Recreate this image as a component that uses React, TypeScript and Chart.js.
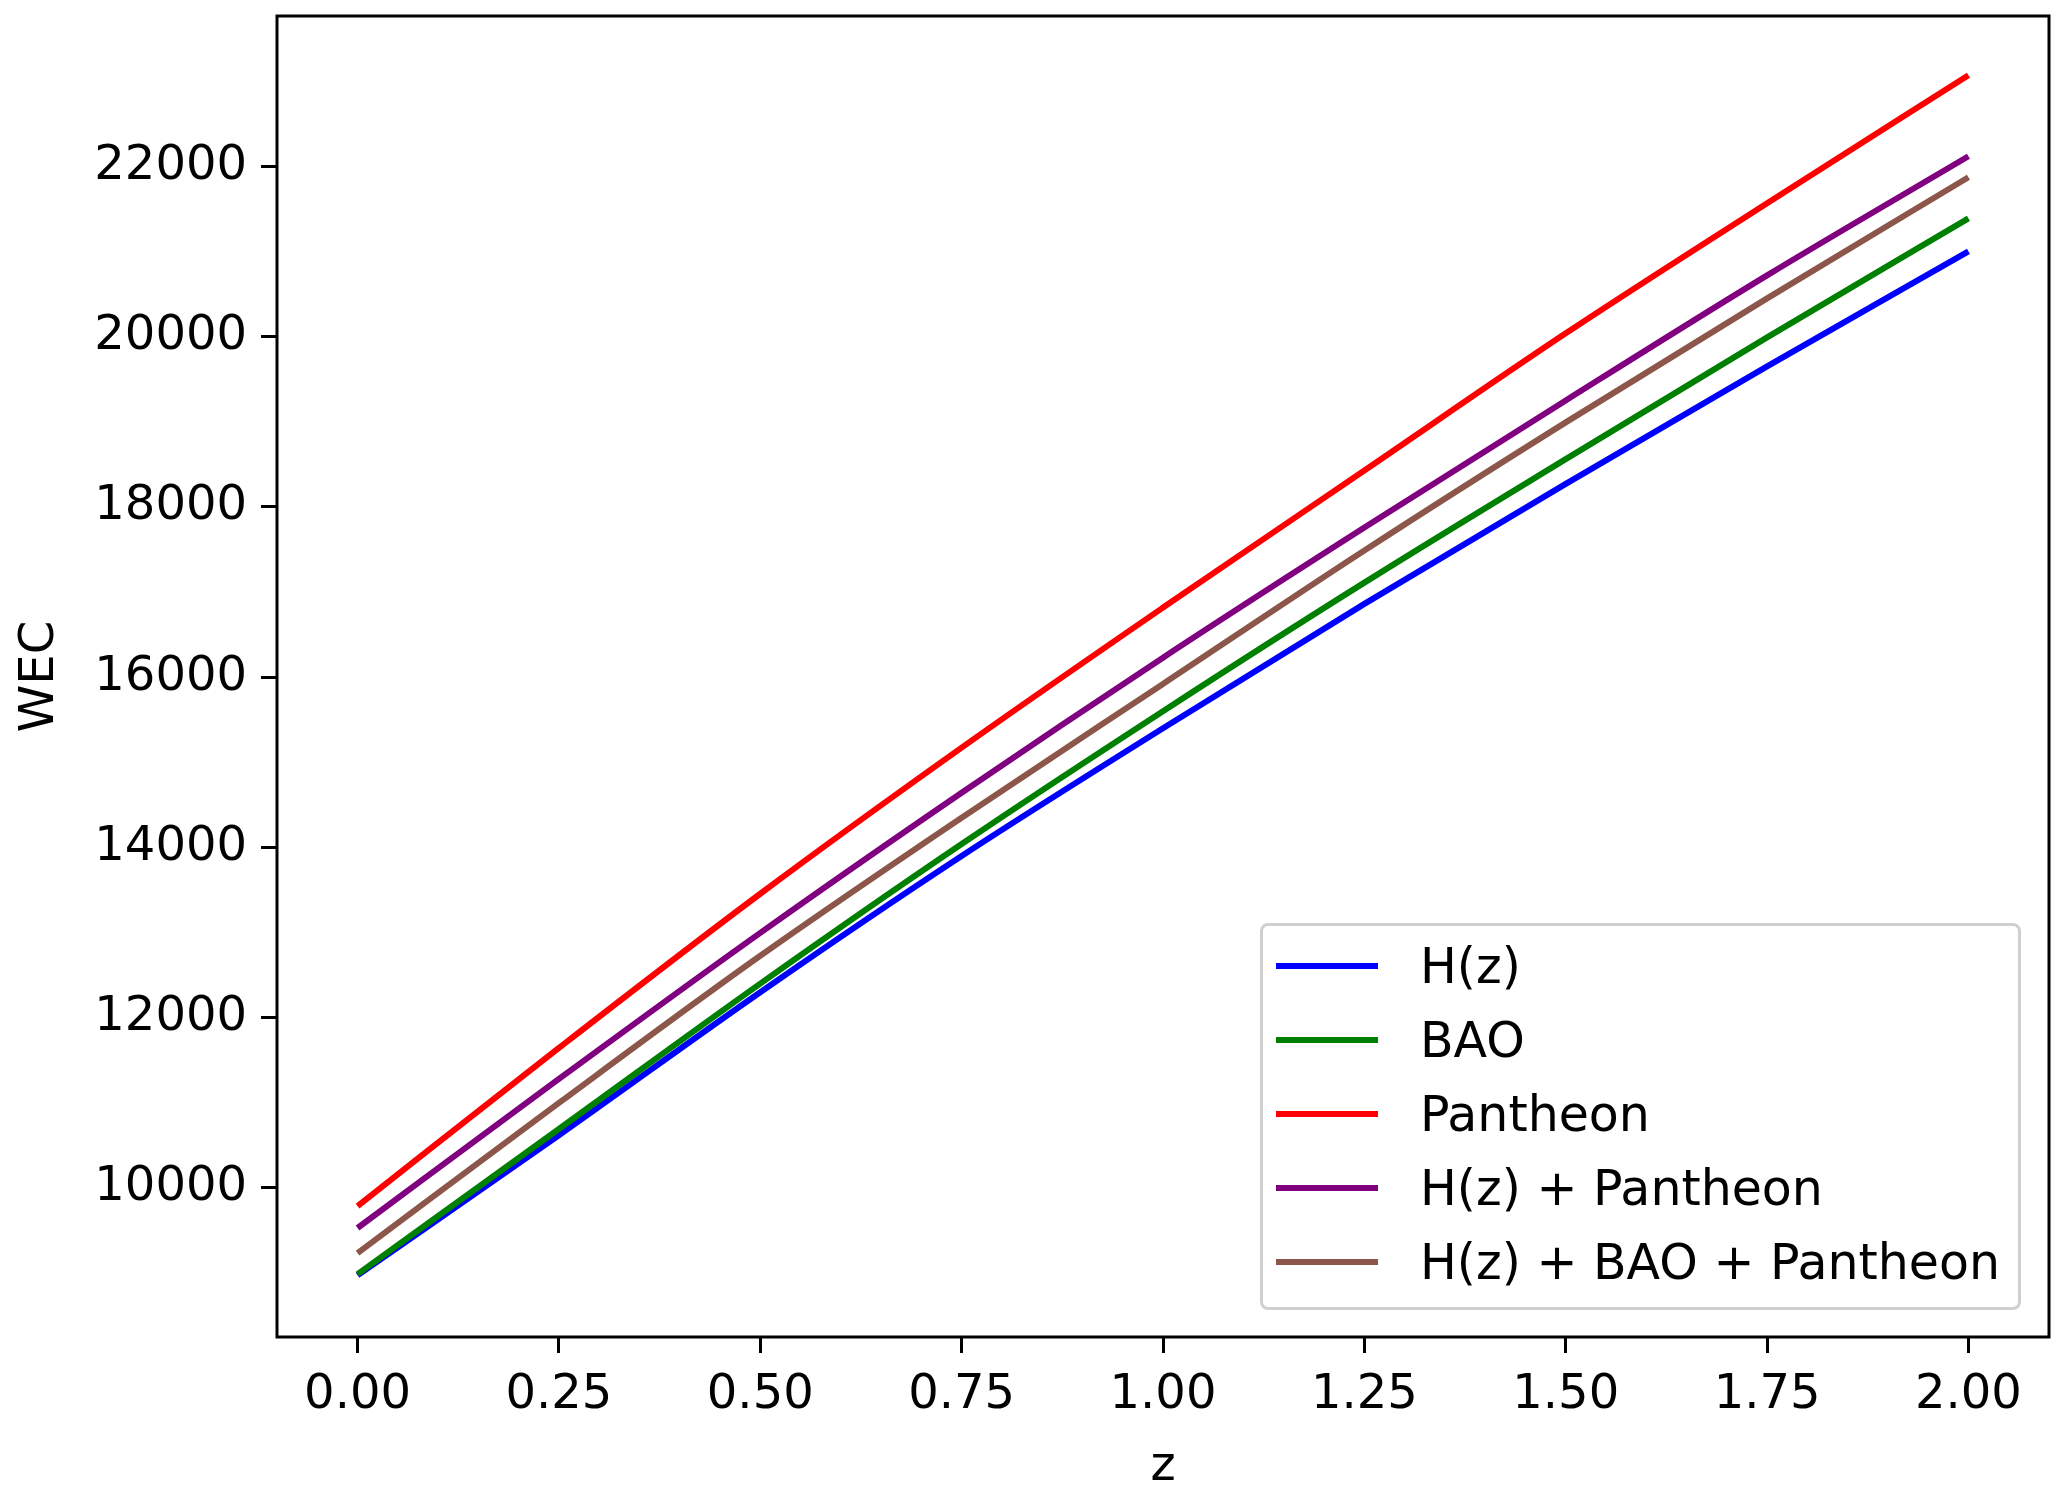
import { useEffect, useRef } from 'react';
import { Chart, registerables } from 'chart.js';

Chart.register(...registerables);

// redshift samples
const zValues = [0, 0.25, 0.5, 0.75, 1, 1.25, 1.5, 1.75, 2];

// WEC for each data combination
const hzWec = [8975, 10620, 12300, 13900, 15400, 16860, 18270, 19650, 21001];
const baoWec = [8989, 10693, 12400, 14040, 15600, 17110, 18560, 19990, 21389];
const pantheonWec = [9788, 11645, 13456, 15172, 16817, 18427, 20038, 21566, 23070];
const hzPantheonWec = [9530, 11281, 12997, 14643, 16229, 17757, 19250, 20719, 22118];
const hzBaoPantheonWec = [9236, 10999, 12727, 14349, 15920, 17487, 18992, 20449, 21871];

const seriesLabels = ['H(z)', 'BAO', 'Pantheon', 'H(z) + Pantheon', 'H(z) + BAO + Pantheon'];
const seriesValues = [hzWec, baoWec, pantheonWec, hzPantheonWec, hzBaoPantheonWec];
const seriesColors = ['#0000ff', '#008000', '#ff0000', '#800080', '#8c564b'];

const xTicks = [0, 0.25, 0.5, 0.75, 1, 1.25, 1.5, 1.75, 2];
const yTicks = [10000, 12000, 14000, 16000, 18000, 20000, 22000];

const FONT = '"DejaVu Sans", sans-serif';

// box round the plot area, like matplotlib spines
const framePlugin = {
  id: 'frame',
  afterDraw(chart: any) {
    const { ctx, chartArea: a } = chart;
    ctx.save();
    ctx.strokeStyle = '#000';
    ctx.lineWidth = 3;
    ctx.strokeRect(a.left, a.top, a.right - a.left, a.bottom - a.top);
    ctx.restore();
  }
};

export default function App() {
  const canvasRef = useRef<HTMLCanvasElement>(null);
  const chartRef = useRef<Chart | null>(null);

  useEffect(() => {
    if (!canvasRef.current) return;
    const ctx = canvasRef.current.getContext('2d');
    if (!ctx) return;

    if (chartRef.current) chartRef.current.destroy();

    chartRef.current = new Chart(ctx, {
      type: 'line',
      data: {
        datasets: seriesLabels.map((label, i) => ({
          label,
          data: zValues.map((z, j) => ({ x: z, y: seriesValues[i][j] })),
          borderColor: seriesColors[i],
          borderWidth: 6,
          pointRadius: 0,
          cubicInterpolationMode: 'monotone' as const,
          fill: false,
          order: seriesLabels.length - i
        }))
      },
      options: {
        responsive: false,
        animation: false,
        devicePixelRatio: 1,
        layout: { padding: { left: 0, top: 16, right: 9, bottom: 0 } },
        plugins: {
          legend: { display: false },
          tooltip: { enabled: false }
        },
        scales: {
          x: {
            type: 'linear',
            min: -0.1,
            max: 2.1,
            afterBuildTicks: (axis: any) => {
              axis.ticks = xTicks.map((v) => ({ value: v }));
            },
            afterFit: (axis: any) => {
              axis.height = 151;
              axis.paddingLeft = 0;
              axis.paddingRight = 0;
            },
            ticks: {
              color: '#000',
              font: { family: FONT, size: 48 },
              padding: 14,
              maxRotation: 0,
              callback: (v: any) => Number(v).toFixed(2)
            },
            grid: {
              drawOnChartArea: false,
              drawTicks: true,
              tickLength: 16,
              tickColor: '#000',
              tickWidth: 3
            },
            border: { display: false },
            title: {
              display: true,
              text: 'z',
              color: '#000',
              font: { family: FONT, size: 48 },
              padding: { top: 0, bottom: -8 }
            }
          },
          y: {
            type: 'linear',
            min: 8250,
            max: 23765,
            afterBuildTicks: (axis: any) => {
              axis.ticks = yTicks.map((v) => ({ value: v }));
            },
            afterFit: (axis: any) => {
              axis.width = 277;
              axis.paddingTop = 0;
              axis.paddingBottom = 0;
            },
            ticks: {
              color: '#000',
              font: { family: FONT, size: 48 },
              padding: 14,
              callback: (v: any) => String(v)
            },
            grid: {
              drawOnChartArea: false,
              drawTicks: true,
              tickLength: 16,
              tickColor: '#000',
              tickWidth: 3
            },
            border: { display: false },
            title: {
              display: true,
              text: 'WEC',
              color: '#000',
              font: { family: FONT, size: 48 },
              padding: { top: 12, bottom: 0 }
            }
          }
        }
      },
      plugins: [framePlugin]
    });

    return () => {
      if (chartRef.current) {
        chartRef.current.destroy();
        chartRef.current = null;
      }
    };
  }, []);

  return (
    <div style={{ position: 'absolute', left: 0, top: 0, width: 2058, height: 1488, background: '#fff' }}>
      <canvas ref={canvasRef} width={2058} height={1488} />
      <div
        style={{
          position: 'absolute',
          left: 1260,
          top: 923,
          width: 761,
          height: 387,
          boxSizing: 'border-box',
          border: '3px solid #d0d0d0',
          borderRadius: 8,
          background: 'rgba(255,255,255,0.8)',
          paddingTop: 3,
          fontFamily: FONT,
          fontSize: 49,
          color: '#000'
        }}
      >
        {seriesLabels.map((label, i) => (
          <div key={label} style={{ display: 'flex', alignItems: 'center', height: 74 }}>
            <div style={{ marginLeft: 13, width: 102, height: 6, background: seriesColors[i] }} />
            <span style={{ marginLeft: 42, whiteSpace: 'nowrap' }}>{label}</span>
          </div>
        ))}
      </div>
    </div>
  );
}
